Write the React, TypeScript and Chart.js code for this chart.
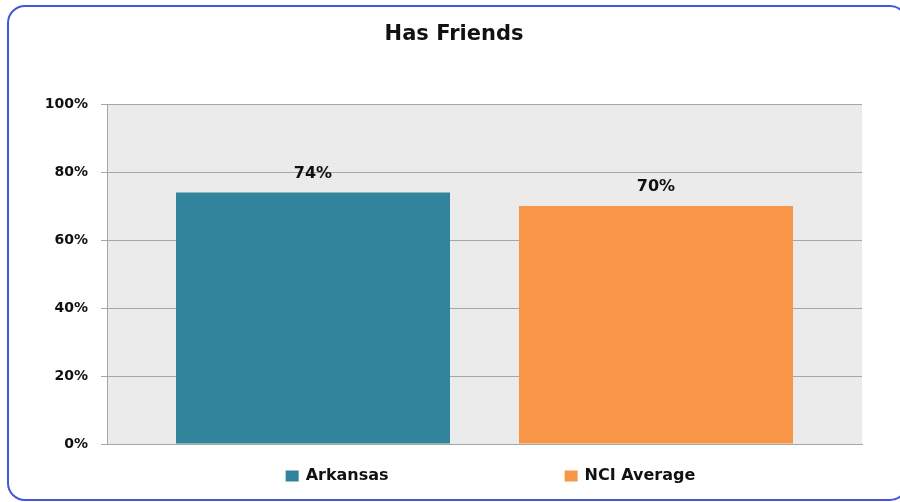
import React, { useEffect, useRef } from 'react';
import { Chart, registerables } from 'chart.js';

Chart.register(...registerables);

// ---- data ----
const chartTitle = 'Has Friends';
const categories = ['Has Friends'];
const seriesNames = ['Arkansas', 'NCI Average'];
const arkansasValues = [74];
const nciAverageValues = [70];
const seriesColors = ['#31849b', '#f79646'];
const yMin = 0;
const yMax = 100;
const yStep = 20;

const FONT = "'DejaVu Sans', Verdana, sans-serif";
const TEXT_COLOR = '#111111';
const GRID_COLOR = '#a6a6a6';

const plotBackground = {
  id: 'plotBackground',
  beforeDraw(chart: any) {
    const { ctx, chartArea } = chart;
    ctx.save();
    ctx.fillStyle = '#ebebeb';
    ctx.fillRect(chartArea.left, chartArea.top, chartArea.right - chartArea.left, chartArea.bottom - chartArea.top);
    ctx.restore();
  },
};

const valueLabels = {
  id: 'valueLabels',
  afterDatasetsDraw(chart: any) {
    const { ctx } = chart;
    ctx.save();
    ctx.font = `bold 16px ${FONT}`;
    ctx.fillStyle = TEXT_COLOR;
    ctx.textAlign = 'center';
    ctx.textBaseline = 'middle';
    chart.data.datasets.forEach((ds: any, i: number) => {
      const meta = chart.getDatasetMeta(i);
      meta.data.forEach((bar: any, j: number) => {
        ctx.fillText(`${ds.data[j]}%`, bar.x, bar.y - 19);
      });
    });
    ctx.restore();
  },
};

const bottomLegend = {
  id: 'bottomLegend',
  afterDraw(chart: any) {
    const { ctx, chartArea } = chart;
    ctx.save();
    ctx.font = `bold 16px ${FONT}`;
    const boxW = 13;
    const boxH = 11;
    const textGap = 7;
    const itemGap = 176;
    const items = chart.data.datasets.map((ds: any) => ({
      text: ds.label,
      color: ds.backgroundColor,
      w: ctx.measureText(ds.label).width,
    }));
    const total =
      items.reduce((s: number, it: any) => s + boxW + textGap + it.w, 0) + itemGap * (items.length - 1);
    let x = (chartArea.left + chartArea.right) / 2 + 6 - total / 2;
    const y = chartArea.bottom + 32;
    ctx.textBaseline = 'middle';
    ctx.textAlign = 'left';
    items.forEach((it: any) => {
      ctx.fillStyle = it.color;
      ctx.fillRect(x, y - boxH / 2, boxW, boxH);
      ctx.fillStyle = TEXT_COLOR;
      ctx.fillText(it.text, x + boxW + textGap, y);
      x += boxW + textGap + it.w + itemGap;
    });
    ctx.restore();
  },
};

export default function App() {
  const canvasRef = useRef<HTMLCanvasElement | null>(null);

  useEffect(() => {
    if (!canvasRef.current) return;
    const chart = new Chart(canvasRef.current, {
      type: 'bar',
      data: {
        labels: categories,
        datasets: [
          {
            label: seriesNames[0],
            data: arkansasValues,
            backgroundColor: seriesColors[0],
            categoryPercentage: 0.9086,
            barPercentage: 0.7988,
          },
          {
            label: seriesNames[1],
            data: nciAverageValues,
            backgroundColor: seriesColors[1],
            categoryPercentage: 0.9086,
            barPercentage: 0.7988,
          },
        ],
      },
      options: {
        responsive: false,
        animation: false,
        devicePixelRatio: 1,
        layout: { padding: { left: 46, right: 38, top: 0, bottom: 58 } },
        plugins: {
          legend: { display: false },
          tooltip: { enabled: false },
          title: {
            display: true,
            text: chartTitle,
            color: TEXT_COLOR,
            font: { family: FONT, size: 21, weight: 'bold' },
            lineHeight: 1.2,
            padding: { top: 22, bottom: 56.8 },
          },
        },
        scales: {
          x: {
            grid: { display: false, drawTicks: false },
            ticks: { display: false },
            border: { display: true, color: GRID_COLOR },
            afterFit(scale: any) {
              scale.height = 0;
            },
          },
          y: {
            min: yMin,
            max: yMax,
            ticks: {
              stepSize: yStep,
              callback: (v: any) => `${v}%`,
              color: TEXT_COLOR,
              font: { family: FONT, size: 14, weight: 'bold' },
              padding: 13,
            },
            grid: { color: GRID_COLOR, tickLength: 6 },
            border: { color: GRID_COLOR },
            afterFit(scale: any) {
              scale.width = 61;
            },
          },
        },
      },
      plugins: [plotBackground, valueLabels, bottomLegend],
    });
    return () => chart.destroy();
  }, []);

  return (
    <div
      style={{
        position: 'fixed',
        left: 0,
        top: 0,
        width: 900,
        height: 502,
        overflow: 'hidden',
        background: '#ffffff',
      }}
    >
      <div
        style={{
          position: 'absolute',
          left: 7,
          top: 5,
          width: 901,
          height: 496,
          boxSizing: 'border-box',
          border: '2px solid #4158d8',
          borderRadius: 18,
        }}
      />
      <canvas
        ref={canvasRef}
        width={900}
        height={502}
        style={{ position: 'absolute', left: 0, top: 0, width: 900, height: 502 }}
      />
    </div>
  );
}
